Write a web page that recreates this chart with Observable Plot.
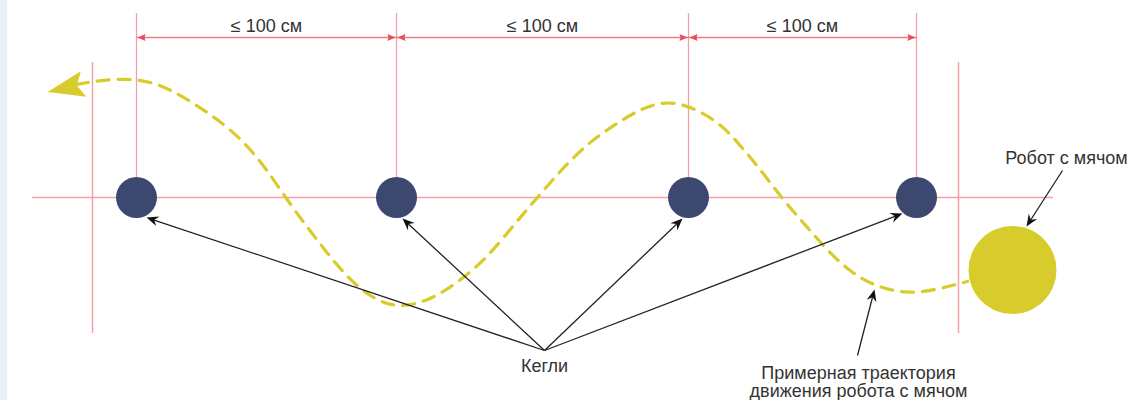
<!DOCTYPE html>
<html>
<head>
<meta charset="utf-8">
<script src="https://cdn.jsdelivr.net/npm/d3@7"></script>
<script src="https://cdn.jsdelivr.net/npm/@observablehq/plot@0.6"></script>
<style>
  html, body { margin: 0; padding: 0; background: #ffffff; }
  #chart svg { display: block; }
</style>
</head>
<body>
<div id="chart"></div>
<script>
// ---- diagram data (diagram units) ----
const pinX = [136, 396, 688, 916];
const pinY = 197;
const pinR = 20.5;
const pinLineTop = 13;
const boundaryX = [92, 958];
const boundaryTop = 62;
const boundaryBottom = 333;
const baseLineX = [32, 1053];
const dimY = 37;
const dimLabel = "≤ 100 см";
const dimLabelY = 26;

const pathX = [76, 98, 125, 150, 172, 195, 223, 247, 267, 287, 307, 327, 347, 370, 397, 430, 460, 487, 517, 537, 560, 587, 613, 640, 667, 693, 720, 740, 763, 783, 807, 827, 850, 877, 907, 933, 967];
const pathY = [84, 80, 78, 81, 90, 104, 123, 145, 170, 200, 227, 253, 277, 297, 308, 300, 280, 257, 220, 197, 170, 143, 125, 108, 100, 107, 123, 145, 173, 200, 227, 250, 272, 287, 293, 290, 281];
const pathArrowFrom = [83, 83.5];
const pathArrowTo = [47, 91.5];

const robotX = 1012, robotY = 269.5, robotR = 44;

const pinLabel = "Кегли";
const pinLabelPos = [544, 366];
const pinArrowOrigin = [544, 350];
const pinArrowTips = [[146, 217], [402, 218], [682, 218], [902, 213]];

const robotLabel = "Робот с мячом";
const robotLabelPos = [1066, 158];
const robotArrow = [[1062, 170], [1026, 226]];

const pathLabel = ["Примерная траектория", "движения робота с мячом"];
const pathLabelX = 858;
const pathLabelY = [373, 391];
const pathArrow = [[857, 355], [874, 289]];

const strip = [{x1: 0, x2: 7, y1: 0, y2: 400}];

// ---- helpers building tables from the arrays ----
function barb(from, to, len, hw, notch) {
  const dx = to[0] - from[0], dy = to[1] - from[1];
  const L = Math.hypot(dx, dy), ux = dx / L, uy = dy / L, px = -uy, py = ux;
  const bx = to[0] - ux * len, by = to[1] - uy * len;
  return [
    [to[0], to[1]],
    [bx + px * hw, by + py * hw],
    [to[0] - ux * (len - notch), to[1] - uy * (len - notch)],
    [bx - px * hw, by - py * hw],
    [to[0], to[1]]
  ];
}
function shorten(from, to, d) {
  const dx = to[0] - from[0], dy = to[1] - from[1];
  const L = Math.hypot(dx, dy);
  return [to[0] - dx / L * d, to[1] - dy / L * d];
}

const pathData = pathX.map((x, i) => ({x, y: pathY[i]}));

const dims = d3.pairs(pinX).map(([a, b]) => ({x1: a, x2: b, mid: (a + b) / 2}));
const dimHeads = [];
dims.forEach((d, i) => {
  barb([d.x1 + 20, dimY], [d.x1 + 1, dimY], 8, 3.5, 1).forEach(([x, y]) => dimHeads.push({x, y, k: "L" + i}));
  barb([d.x2 - 20, dimY], [d.x2 - 1, dimY], 8, 3.5, 1).forEach(([x, y]) => dimHeads.push({x, y, k: "R" + i}));
});

const blackArrows = pinArrowTips.map(t => [pinArrowOrigin, t]).concat([robotArrow, pathArrow]);
const blackLines = blackArrows.map(([f, t], i) => {
  const e = shorten(f, t, 8);
  return {x1: f[0], y1: f[1], x2: e[0], y2: e[1]};
});
const blackHeads = [];
blackArrows.forEach(([f, t], i) => {
  barb(f, t, 12, 5, 4).forEach(([x, y]) => blackHeads.push({x, y, k: i}));
});

const yellowHead = barb(pathArrowFrom, pathArrowTo, 37, 13, 7).map(([x, y]) => ({x, y}));

const FONT = "'Liberation Sans', Arial, Helvetica, sans-serif";
const RED_LIGHT = "#f4a0a8";
const YELLOW = "#d8cc2c";
const NAVY = "#3d4870";
const FS = 18;

const chart = Plot.plot({
  width: 1133,
  height: 400,
  margin: 0,
  x: {domain: [0, 1133], axis: null},
  y: {domain: [0, 400], reverse: true, axis: null},
  style: {background: "#ffffff", fontFamily: FONT},
  marks: [
    Plot.rect(strip, {x1: "x1", x2: "x2", y1: "y1", y2: "y2", fill: "#e6f1f9"}),
    // guide lines
    Plot.ruleY([pinY], {x1: baseLineX[0], x2: baseLineX[1], stroke: RED_LIGHT, strokeWidth: 1.3}),
    Plot.ruleX(pinX, {x: d => d, y1: pinLineTop, y2: pinY, stroke: RED_LIGHT, strokeWidth: 1.3}),
    Plot.ruleX(boundaryX, {x: d => d, y1: boundaryTop, y2: boundaryBottom, stroke: RED_LIGHT, strokeWidth: 1.5}),
    // dimension lines
    Plot.link(dims, {x1: "x1", x2: "x2", y1: dimY, y2: dimY, stroke: "#f07c88", strokeWidth: 1.3}),
    Plot.line(dimHeads, {x: "x", y: "y", z: "k", fill: "#ea4c5c", stroke: "none", curve: "linear"}),
    Plot.text(dims, {x: "mid", y: dimLabelY, text: () => dimLabel, fontSize: FS, fill: "#333"}),
    // trajectory
    Plot.line(pathData, {x: "x", y: "y", curve: "basis", stroke: YELLOW, strokeWidth: 3.2, strokeDasharray: "12,9"}),
    Plot.line(yellowHead, {x: "x", y: "y", fill: YELLOW, stroke: "none", curve: "linear"}),
    // pins
    Plot.dot(pinX, {x: d => d, y: pinY, r: pinR, fill: NAVY, stroke: "none"}),
    // robot
    Plot.dot([robotX], {x: d => d, y: robotY, r: robotR, fill: YELLOW, stroke: "none"}),
    // black arrows
    Plot.link(blackLines, {x1: "x1", y1: "y1", x2: "x2", y2: "y2", stroke: "#222", strokeWidth: 1.3}),
    Plot.line(blackHeads, {x: "x", y: "y", z: "k", fill: "#111", stroke: "none", curve: "linear"}),
    // labels
    Plot.text([pinLabel], {x: pinLabelPos[0], y: pinLabelPos[1], text: d => d, fontSize: FS, fill: "#333"}),
    Plot.text([robotLabel], {x: robotLabelPos[0], y: robotLabelPos[1], text: d => d, fontSize: FS, fill: "#333"}),
    Plot.text(pathLabel, {x: pathLabelX, y: (d, i) => pathLabelY[i], text: d => d, fontSize: FS, fill: "#333"})
  ]
});
document.getElementById("chart").appendChild(chart);
</script>
</body>
</html>
